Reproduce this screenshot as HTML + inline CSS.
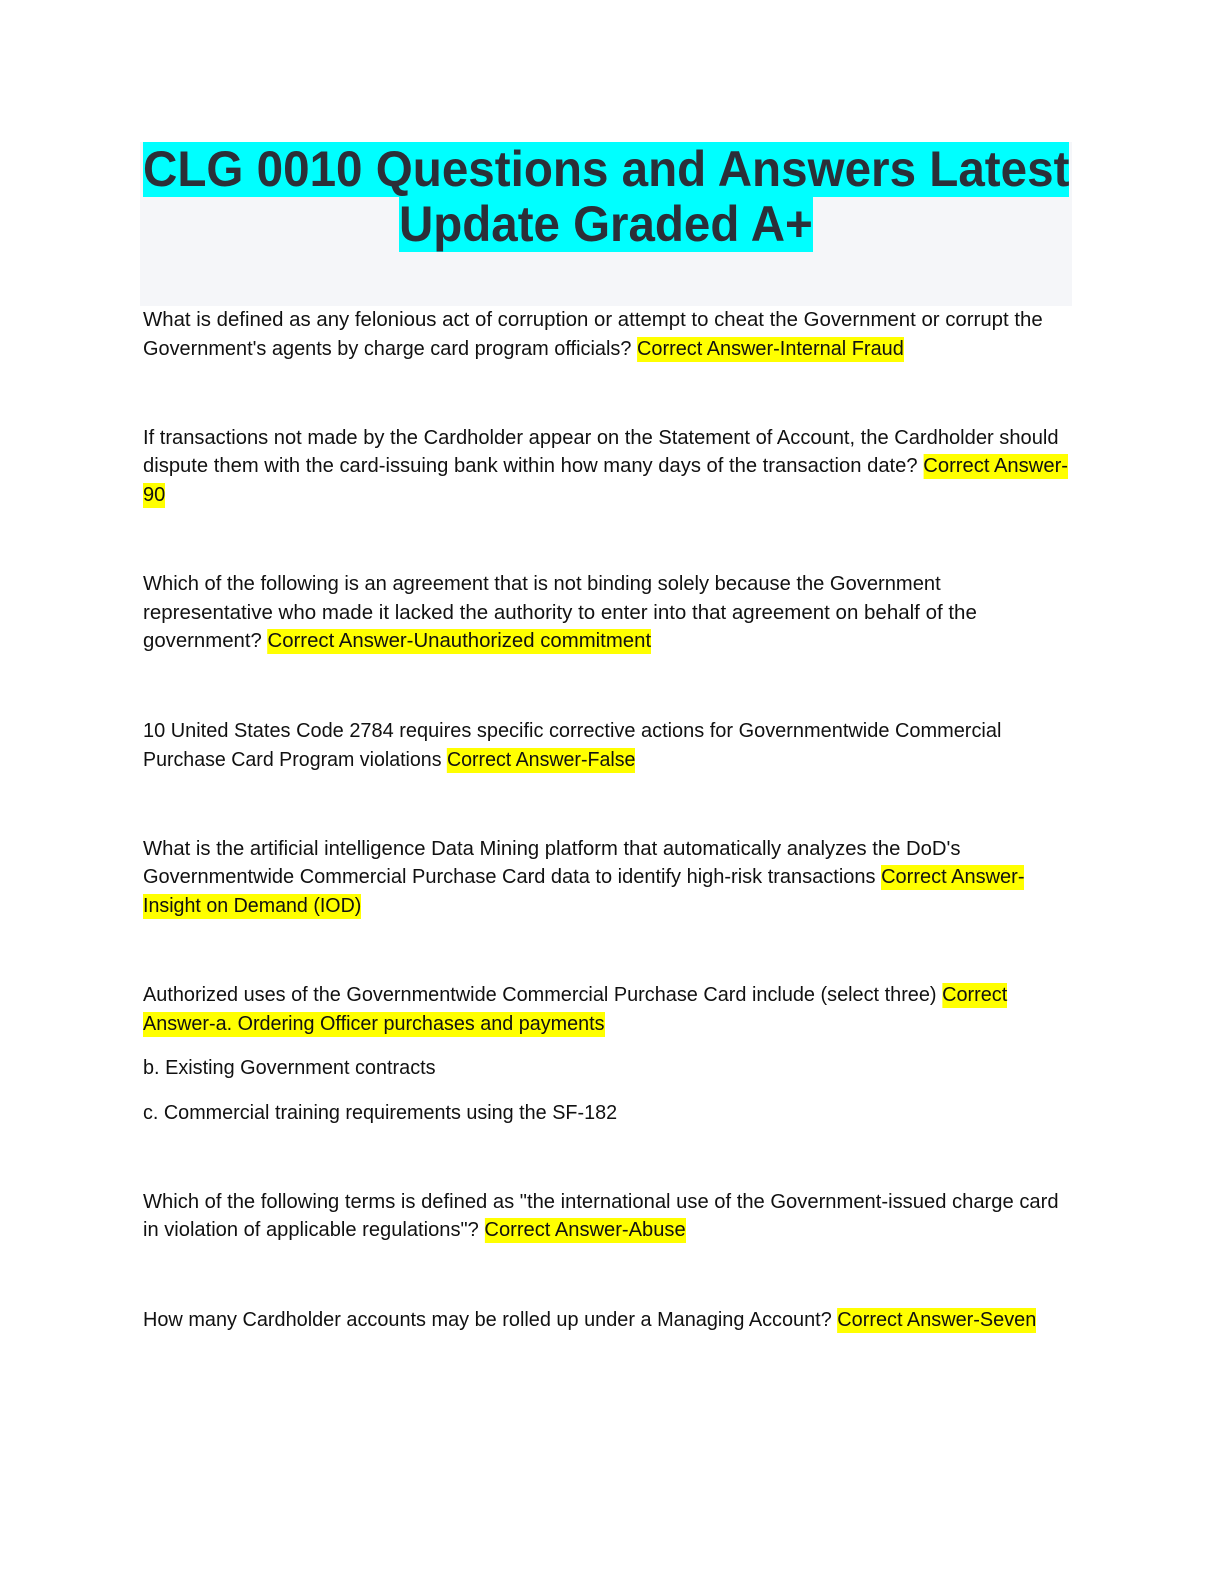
<!DOCTYPE html>
<html><head><meta charset="utf-8">
<style>
html,body{margin:0;padding:0;background:#fff;}
body{width:1224px;height:1584px;position:relative;overflow:hidden;font-family:"Liberation Sans",sans-serif;}
.box{position:absolute;left:140px;top:142px;width:932px;height:164px;background:#f5f6f9;}
.t{position:absolute;height:55px;line-height:55px;font-size:50px;font-weight:bold;color:#2b2f38;white-space:nowrap;transform-origin:0 0;}
.t span{background:#00ffff;display:inline-block;height:55px;}
.l{position:absolute;left:143px;height:25px;line-height:25px;font-size:20px;color:#111;white-space:nowrap;transform-origin:0 0;}
.h{background:#ffff00;display:inline-block;height:25px;}
</style></head><body>
<div class="box"></div>
<div class="t" id="t1" style="left:143px;top:142px"><span>CLG 0010 Questions and Answers Latest</span></div>
<div class="t" id="t2" style="left:399px;top:197px"><span>Update Graded A+</span></div>

<div class="l" style="top:308px">What is defined as any felonious act of corruption or attempt to cheat the Government or corrupt the</div>
<div class="l" style="top:337px">Government's agents by charge card program officials? <span class="h">Correct Answer-Internal Fraud</span></div>
<div class="l" style="top:426px">If transactions not made by the Cardholder appear on the Statement of Account, the Cardholder should</div>
<div class="l" style="top:454px">dispute them with the card-issuing bank within how many days of the transaction date? <span class="h">Correct Answer-</span></div>
<div class="l" style="top:483px"><span class="h">90</span></div>
<div class="l" style="top:572px">Which of the following is an agreement that is not binding solely because the Government</div>
<div class="l" style="top:601px">representative who made it lacked the authority to enter into that agreement on behalf of the</div>
<div class="l" style="top:629px">government? <span class="h">Correct Answer-Unauthorized commitment</span></div>
<div class="l" style="top:719px">10 United States Code 2784 requires specific corrective actions for Governmentwide Commercial</div>
<div class="l" style="top:748px">Purchase Card Program violations <span class="h">Correct Answer-False</span></div>
<div class="l" style="top:837px">What is the artificial intelligence Data Mining platform that automatically analyzes the DoD's</div>
<div class="l" style="top:865px">Governmentwide Commercial Purchase Card data to identify high-risk transactions <span class="h">Correct Answer-</span></div>
<div class="l" style="top:894px"><span class="h">Insight on Demand (IOD)</span></div>
<div class="l" style="top:983px">Authorized uses of the Governmentwide Commercial Purchase Card include (select three) <span class="h">Correct</span></div>
<div class="l" style="top:1012px"><span class="h">Answer-a. Ordering Officer purchases and payments</span></div>
<div class="l" style="top:1056px">b. Existing Government contracts</div>
<div class="l" style="top:1101px">c. Commercial training requirements using the SF-182</div>
<div class="l" style="top:1190px">Which of the following terms is defined as "the international use of the Government-issued charge card</div>
<div class="l" style="top:1218px">in violation of applicable regulations"? <span class="h">Correct Answer-Abuse</span></div>
<div class="l" style="top:1308px">How many Cardholder accounts may be rolled up under a Managing Account? <span class="h">Correct Answer-Seven</span></div>

<script>
var W=[900,761,916,925,22,798,834,508,858,492,818,881,218,864,462,293,474,916,543,893];
var ls=document.querySelectorAll('.l');
for(var i=0;i<ls.length;i++){var w=ls[i].scrollWidth;if(w>0)ls[i].style.transform='scaleX('+(W[i]/w)+')';}
function fit(id,tw){var e=document.getElementById(id);var w=e.scrollWidth;if(w>0)e.style.transform='scaleX('+(tw/w)+')';}
fit('t1',926);fit('t2',414);
</script>
</body></html>
